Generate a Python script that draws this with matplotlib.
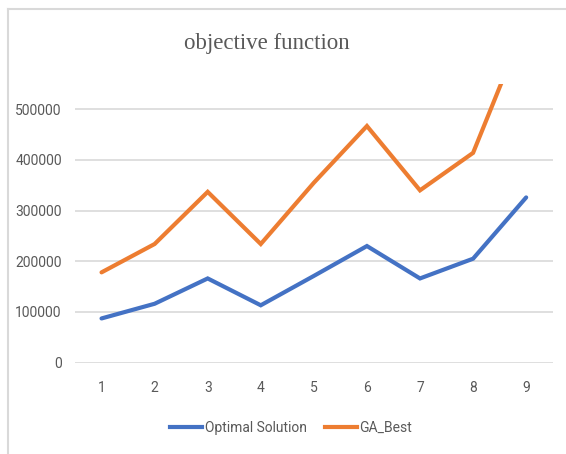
import matplotlib
matplotlib.use("Agg")
import matplotlib.pyplot as plt
from matplotlib.lines import Line2D

# Data
runs = [1, 2, 3, 4, 5, 6, 7, 8, 9]
optimal_solution = [87000, 116000, 166000, 113000, 171000, 230000, 166000, 205000, 326000]
ga_best = [178000, 234000, 337000, 234000, 355000, 467000, 340000, 414000, 673000]
series_names = ["Optimal Solution", "GA_Best"]
y_ticks = [0, 100000, 200000, 300000, 400000, 500000]
title = "objective function"

W, H = 566, 454
fig = plt.figure(figsize=(W / 100, H / 100), dpi=100)
fig.patch.set_facecolor("white")

ax = fig.add_axes([75 / W, 1 - 362.5 / H, (552.7 - 75) / W, (362.5 - 84) / H])
ax.set_facecolor("white")

blue = "#4472C4"
orange = "#ED7D31"
grey_text = "#595959"
grid_col = "#D9D9D9"

ax.plot(runs, optimal_solution, color=blue, lw=3.0, solid_capstyle="round",
        solid_joinstyle="miter", zorder=3)
ax.plot(runs, ga_best, color=orange, lw=3.0, solid_capstyle="round",
        solid_joinstyle="miter", zorder=3)

ax.set_xlim(0.5, 9.5)
ax.set_ylim(0, 550000)
ax.set_yticks(y_ticks)
ax.set_yticklabels([str(v) for v in y_ticks])
ax.set_xticks(runs)
ax.set_xticklabels([str(r) for r in runs])

for v in y_ticks:
    ax.axhline(v, color=grid_col, lw=1.2, zorder=1)

for s in ax.spines.values():
    s.set_visible(False)

label_font = ["Liberation Sans Narrow", "Roboto", "DejaVu Sans"]
ax.tick_params(axis="both", length=0, colors=grey_text, labelsize=10)
ax.tick_params(axis="y", pad=9.5)
ax.tick_params(axis="x", pad=13)
for lab in ax.get_xticklabels() + ax.get_yticklabels():
    lab.set_family(label_font)

fig.text(266.5 / W, 1 - 43 / H, title, ha="center", va="center",
         fontsize=16.5, color=grey_text, family=["Liberation Serif", "DejaVu Serif"])

handles = [Line2D([0], [0], color=blue, lw=3.0),
           Line2D([0], [0], color=orange, lw=3.0)]
fig.legend(handles, series_names, loc="center", bbox_to_anchor=(291 / W, 1 - 428 / H),
           ncol=2, frameon=False, handlelength=2.3, handletextpad=0.2,
           columnspacing=1.3, prop={"family": label_font, "size": 10},
           labelcolor=grey_text)

# Chart area border (top and left edges visible)
fig.add_artist(Line2D([8 / W, 8 / W], [0, 1 - 9 / H], transform=fig.transFigure,
                      color=grid_col, lw=1.5))
fig.add_artist(Line2D([8 / W, 1], [1 - 9 / H, 1 - 9 / H], transform=fig.transFigure,
                      color=grid_col, lw=1.5))

fig.savefig("out.png", dpi=100, facecolor="white")
